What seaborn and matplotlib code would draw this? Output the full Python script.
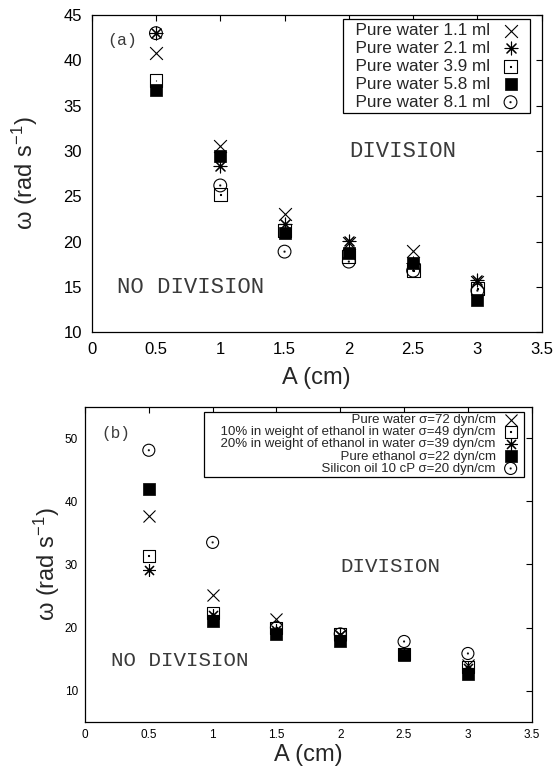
import numpy as np
import matplotlib
matplotlib.use('Agg')
import matplotlib.pyplot as plt
from matplotlib.path import Path
import seaborn as sns

# amplitude of the forcing (cm)
A_cm = [0.5, 1.0, 1.5, 2.0, 2.5, 3.0]

# (a) pure water, several volumes
w_1_1 = [40.8, 30.5, 23.1, 19.9, 19.0, 15.6]
w_2_1 = [43.0, 28.3, 22.0, 20.1, 17.7, 15.8]
w_3_9 = [37.8, 25.2, 21.2, 18.4, 16.8, 14.8]
w_5_8 = [36.7, 29.4, 21.0, 18.8, 17.7, 13.6]
w_8_1 = [43.0, 26.2, 18.9, 17.8, 16.8, 14.6]
labels_a = ['Pure water 1.1 ml', 'Pure water 2.1 ml', 'Pure water 3.9 ml',
            'Pure water 5.8 ml', 'Pure water 8.1 ml']

# (b) different liquids
pure_water = [37.7, 25.2, 21.3, 18.9, 15.8, 14.0]
ethanol_10 = [31.4, 22.3, 20.0, 19.0, 15.8, 13.8]
ethanol_20 = [29.2, 22.0, 19.6, 18.8, 15.9, 13.6]
ethanol = [41.9, 21.0, 19.0, 17.8, 15.6, 12.6]
silicon_oil = [48.1, 33.5, 20.0, 19.0, 17.8, 15.9]
labels_b = ['Pure water σ=72 dyn/cm',
            '10% in weight of ethanol in water σ=49 dyn/cm',
            '20% in weight of ethanol in water σ=39 dyn/cm',
            'Pure ethanol σ=22 dyn/cm',
            'Silicon oil 10 cP σ=20 dyn/cm']

xticks = [0, 0.5, 1, 1.5, 2, 2.5, 3, 3.5]
xtick_labels = ['0', '0.5', '1', '1.5', '2', '2.5', '3', '3.5']
yticks_a = [10, 15, 20, 25, 30, 35, 40, 45]
yticks_b = [10, 20, 30, 40, 50]

# gnuplot-like markers: open square / circle with a dot in the middle
square = Path([(-1, -1), (1, -1), (1, 1), (-1, 1), (-1, -1)],
              [Path.MOVETO, Path.LINETO, Path.LINETO, Path.LINETO, Path.CLOSEPOLY])
dot = Path([(-0.07, -0.07), (0.07, -0.07), (0.07, 0.07), (-0.07, 0.07), (-0.07, -0.07)],
           [Path.MOVETO, Path.LINETO, Path.LINETO, Path.LINETO, Path.CLOSEPOLY])
sq_dot = Path.make_compound_path(square, dot)
circ_dot = Path.make_compound_path(Path.circle((0, 0), 1.0), dot)
asterisk = (8, 2, 0)

sns.set_style('white')
plt.rcParams['font.family'] = ['Liberation Sans', 'DejaVu Sans']
plt.rcParams['mathtext.fontset'] = 'custom'
plt.rcParams['mathtext.rm'] = 'Liberation Sans'
plt.rcParams['mathtext.it'] = 'Liberation Sans'

fig = plt.figure(figsize=(5.57, 7.71), dpi=100)
ax1 = fig.add_axes([0.1646, 0.569, 0.8079, 0.4115])
ax2 = fig.add_axes([0.1526, 0.0632, 0.802, 0.4093])


def draw(ax, series, labels, size):
    # x, open square, asterisk, filled square, open circle
    styles = [dict(marker='x', color='black', linewidth=0.8),
              dict(marker=sq_dot, facecolor='none', edgecolor='black', linewidth=0.8),
              dict(marker=asterisk, color='black', linewidth=0.8),
              dict(marker='s', color='black', edgecolor='black', linewidth=0.5),
              dict(marker=circ_dot, facecolor='none', edgecolor='black', linewidth=0.8)]
    for vals, lab, st in zip(series, labels, styles):
        sns.scatterplot(x=A_cm, y=vals, ax=ax, s=size, label=lab, **st)


draw(ax1, [w_1_1, w_3_9, w_2_1, w_5_8, w_8_1],
     [labels_a[0], labels_a[2], labels_a[1], labels_a[3], labels_a[4]], 85)
draw(ax2, [pure_water, ethanol_10, ethanol_20, ethanol, silicon_oil], labels_b, 75)

for ax in (ax1, ax2):
    ax.set_xlim(0, 3.5)
    ax.set_xticks(xticks)
    ax.set_xticklabels(xtick_labels)
    ax.tick_params(direction='in', top=True, right=True, length=4, width=0.8, colors='black')
    for sp in ax.spines.values():
        sp.set_linewidth(0.9)
        sp.set_color('black')

ax1.set_ylim(10, 45)
ax1.set_yticks(yticks_a)
ax1.tick_params(labelsize=12, pad=7)
ax2.set_ylim(5, 55)
ax2.set_yticks(yticks_b)
ax2.tick_params(labelsize=8.5, pad=5)

ax1.set_xlabel('A (cm)', fontsize=17)
ax1.set_ylabel('ω (rad s$^{-1}$)', fontsize=17)
ax1.xaxis.set_label_coords(0.5, -0.11)
ax1.yaxis.set_label_coords(-0.115, 0.5)
ax2.set_xlabel('A (cm)', fontsize=17)
ax2.set_ylabel('ω (rad s$^{-1}$)', fontsize=17)
ax2.xaxis.set_label_coords(0.5, -0.07)
ax2.yaxis.set_label_coords(-0.052, 0.5)

# legend (a): x, *, open square, filled square, circle
h, l = ax1.get_legend_handles_labels()
order = [0, 2, 1, 3, 4]
leg1 = ax1.legend([h[i] for i in order], ['  ' + l[i] for i in order], loc='upper right',
                  bbox_to_anchor=(0.974, 0.9865), borderaxespad=0, markerfirst=False,
                  fontsize=12.3, frameon=True, fancybox=False, edgecolor='black',
                  framealpha=1, labelspacing=0.17, borderpad=0.22, handletextpad=0.25,
                  handlelength=1.84)
leg1.get_frame().set_linewidth(0.9)

h, l = ax2.get_legend_handles_labels()
leg2 = ax2.legend(h, ['    ' + t for t in l], loc='upper right',
                  bbox_to_anchor=(0.9834, 0.984), borderaxespad=0, markerfirst=False,
                  fontsize=9.5, frameon=True, fancybox=False, edgecolor='black',
                  framealpha=1, labelspacing=0.0, borderpad=0.15, handletextpad=0.25,
                  handlelength=1.77)
leg2.get_frame().set_linewidth(0.9)

mono = dict(family='Liberation Mono', color='#3a3a3a')
ax1.text(0.12, 42.2, '(a)', fontsize=12, va='center', **mono)
ax1.text(2.0, 29.9, 'DIVISION', fontsize=16, va='center', **mono)
ax1.text(0.2, 14.9, 'NO DIVISION', fontsize=16, va='center', **mono)
ax2.text(0.13, 50.8, '(b)', fontsize=11.5, va='center', **mono)
ax2.text(2.0, 29.7, 'DIVISION', fontsize=15, va='center', **mono)
ax2.text(0.2, 14.8, 'NO DIVISION', fontsize=15, va='center', **mono)

fig.savefig('out.png', dpi=100)
